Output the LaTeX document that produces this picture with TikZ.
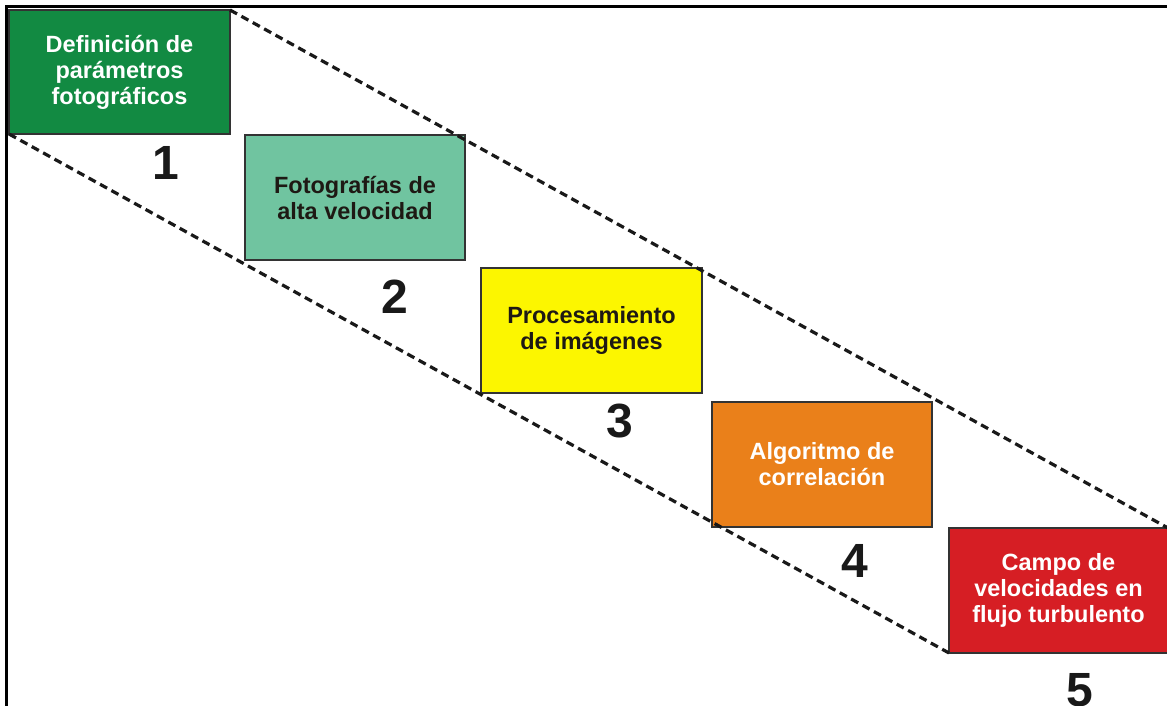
\documentclass[tikz,border=0pt]{standalone}
\usepackage{fontspec}
\setmainfont{Liberation Sans}
\definecolor{c1}{RGB}{18,138,66}
\definecolor{c2}{RGB}{112,196,160}
\definecolor{c3}{RGB}{252,246,0}
\definecolor{c4}{RGB}{234,128,26}
\definecolor{c5}{RGB}{214,30,36}
\definecolor{darktxt}{RGB}{30,25,20}
\tikzset{
  stepbox/.style={draw=black!80, line width=1.3pt, anchor=north west, inner sep=0pt, outer sep=0pt,
    align=center, font=\bfseries\fontsize{23.5}{26}\selectfont},
  numlabel/.style={font=\bfseries\fontsize{48}{48}\selectfont, text=black!90, inner sep=0pt},
  guide/.style={draw=black!90, line width=3.2pt, dash pattern=on 8pt off 5pt}
}
\begin{document}
\begin{tikzpicture}[x=1pt,y=-1pt]
\useasboundingbox (0,0) rectangle (1167,706);
\fill[white] (0,0) rectangle (1167,706);
\draw[line width=3pt] (6,706) -- (6,7) -- (1167,7);
\node[stepbox, fill=c1, text=white, minimum width=221pt, minimum height=124pt] (b1) at (9,10) {Definición de\\parámetros\\fotográficos};
\node[stepbox, fill=c2, text=darktxt, minimum width=220pt, minimum height=125pt] (b2) at (245,135) {Fotografías de\\alta velocidad};
\node[stepbox, fill=c3, text=darktxt, minimum width=221pt, minimum height=125pt] (b3) at (481,268) {Procesamiento\\de imágenes};
\node[stepbox, fill=c4, text=white, minimum width=220pt, minimum height=125pt] (b4) at (712,402) {Algoritmo de\\correlación};
\node[stepbox, fill=c5, text=white, minimum width=219pt, minimum height=125pt] (b5) at (949,528) {Campo de\\velocidades en\\flujo turbulento};
\draw[guide] (b1.north east) -- (b5.north east);
\draw[guide] (b1.south west) -- (b5.south west);
\node[numlabel] (n1) at (166,163) {1};
\node[numlabel] (n2) at (395,297) {2};
\node[numlabel] (n3) at (620,421) {3};
\node[numlabel] (n4) at (855,561) {4};
\node[numlabel] (n5) at (1080,690) {5};
\end{tikzpicture}
\end{document}
